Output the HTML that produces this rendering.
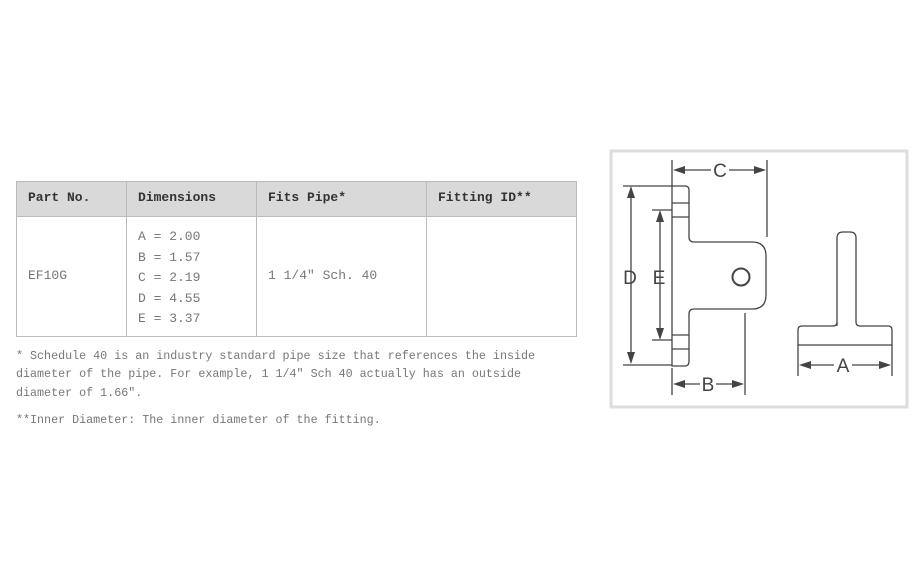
<!DOCTYPE html>
<html><head><meta charset="utf-8"><style>
body{margin:0;width:924px;height:575px;background:#fff;position:relative;font-family:"Liberation Mono",monospace;font-size:13px;overflow:hidden}
.t{position:absolute;white-space:pre;color:#777}
.h{position:absolute;white-space:pre;color:#333;font-weight:bold}
</style></head><body>
<div style="position:absolute;left:16px;top:181px;width:560px;height:35px;background:#d9d9d9"></div>
<div style="position:absolute;left:16px;top:181px;width:559px;height:154px;border:1px solid #bbb"></div>
<div style="position:absolute;left:16px;top:216px;width:560px;height:1px;background:#bbb"></div>
<div style="position:absolute;left:126px;top:181px;width:1px;height:155px;background:#bbb"></div>
<div style="position:absolute;left:256px;top:181px;width:1px;height:155px;background:#bbb"></div>
<div style="position:absolute;left:426px;top:181px;width:1px;height:155px;background:#bbb"></div>
<div class="h" style="left:28px;top:190px">Part No.</div>
<div class="h" style="left:138px;top:190px">Dimensions</div>
<div class="h" style="left:268px;top:190px">Fits Pipe*</div>
<div class="h" style="left:438px;top:190px">Fitting ID**</div>
<div class="t" style="left:138px;top:227px;line-height:20.5px">A = 2.00
B = 1.57
C = 2.19
D = 4.55
E = 3.37</div>
<div class="t" style="left:28px;top:268px">EF10G</div>
<div class="t" style="left:268px;top:268px">1 1/4" Sch. 40</div>
<div class="t" style="left:16px;top:347px;line-height:18.3px;font-size:11.7px">* Schedule 40 is an industry standard pipe size that references the inside
diameter of the pipe. For example, 1 1/4" Sch 40 actually has an outside
diameter of 1.66".</div>
<div class="t" style="left:16px;top:413px;font-size:11.7px">**Inner Diameter: The inner diameter of the fitting.</div>
<svg style="position:absolute;left:0;top:0" width="924" height="575">
<rect x="611" y="151" width="296" height="256" fill="#fff" stroke="#ddd" stroke-width="3"/>
<g stroke="#444" stroke-width="1.3" fill="none">
<path d="M672 186 H685 Q689 186 689 190 V237 Q689 242 694 242 H752 Q766 242 766 256 V295 Q766 309 752 309 H694 Q689 309 689 314 V361 Q689 366 685 366 H672 Z"/>
<path d="M672 203H689M672 217H689M672 335H689M672 349H689"/>
<circle cx="741" cy="277" r="8.5" stroke-width="2"/>
<path d="M623 186H672M623 365H672M652 210H672M652 340H672"/>
<path d="M631 190V360M660 214V336"/>
<path d="M672 160V186M767 160V237M745 313V395M672 368V395"/>
<path d="M676 170H711M729 170H763M676 384H700M716 384H741"/>
<path d="M837 326V238Q837 232 843 232H850Q856 232 856 238V322Q856 326 860 326H888Q892 326 892 330V345H798V330Q798 326 802 326H833Q837 326 837 322"/>
<path d="M798 345V376M892 345V376M802 365H834M852 365H888"/>
</g>
<g fill="#444">
<path d="M631 186l-4 12h8zM631 364l-4-12h8zM660 210l-4 12h8zM660 340l-4-12h8z"/>
<path d="M673 170l12-4v8zM766 170l-12-4v8zM673 384l12-4v8zM744 384l-12-4v8zM799 365l12-4v8zM891 365l-12-4v8z"/>
</g>
<g font-family="Liberation Sans,sans-serif" font-size="19" fill="#444" text-anchor="middle">
<text x="720" y="177">C</text><text x="708" y="391">B</text><text x="843" y="372">A</text>
<text x="630" y="284">D</text><text x="659" y="284">E</text>
</g>
</svg>
</body></html>
